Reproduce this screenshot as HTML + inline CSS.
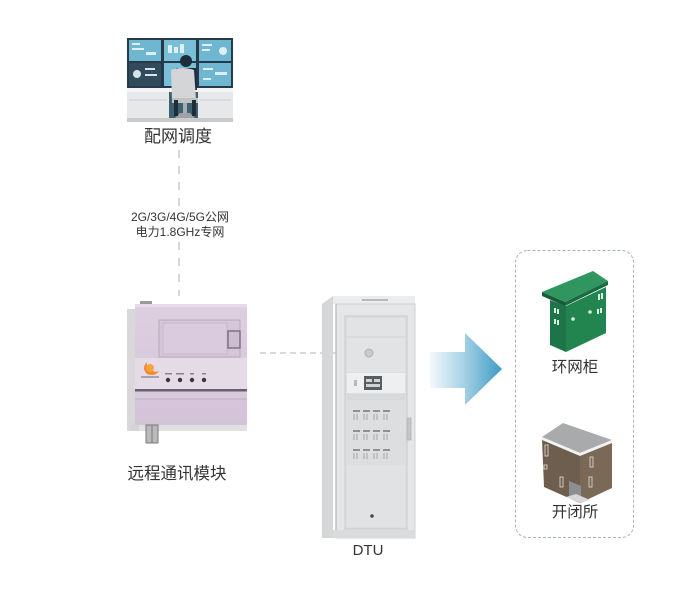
<!DOCTYPE html>
<html><head><meta charset="utf-8"><style>
html,body{margin:0;padding:0;background:#fff;}
svg{display:block;}
text{font-family:"Liberation Sans","Noto Sans CJK SC",sans-serif;fill:#333;}
</style></head><body>
<svg width="697" height="596" viewBox="0 0 697 596" xmlns="http://www.w3.org/2000/svg">
<defs>
<linearGradient id="arr" x1="430" y1="0" x2="502" y2="0" gradientUnits="userSpaceOnUse">
<stop offset="0" stop-color="#f4f9fc"/>
<stop offset="0.45" stop-color="#a9d3e6"/>
<stop offset="1" stop-color="#3d9cc6"/>
</linearGradient>
<linearGradient id="mod" x1="0" y1="0" x2="0" y2="1">
<stop offset="0" stop-color="#ddcfe0"/>
<stop offset="1" stop-color="#d4c3d8"/>
</linearGradient>
</defs>

<!-- control room -->
<g>
<rect x="127" y="38" width="106" height="50" fill="#26394a"/>
<rect x="129" y="40" width="32" height="21" fill="#6fb7d0"/>
<rect x="164" y="40" width="32" height="21" fill="#79bfd7"/>
<rect x="199" y="40" width="32" height="21" fill="#6fb7d0"/>
<rect x="129" y="63" width="32" height="23" fill="#2f4b5c"/>
<rect x="164" y="63" width="32" height="23" fill="#79bfd7"/>
<rect x="199" y="63" width="32" height="23" fill="#6fb7d0"/>
<g fill="#e9f5fa" opacity="0.9">
<rect x="132" y="43" width="8" height="2"/><rect x="132" y="48" width="12" height="2"/><rect x="146" y="52" width="10" height="3"/>
<rect x="168" y="45" width="4" height="8"/><rect x="174" y="47" width="4" height="6"/><rect x="180" y="44" width="4" height="9"/>
<circle cx="223" cy="51" r="4"/><rect x="202" y="44" width="10" height="2"/><rect x="202" y="49" width="8" height="2"/>
<circle cx="137" cy="74" r="4"/><rect x="145" y="68" width="10" height="2"/><rect x="145" y="74" width="12" height="2"/>
<rect x="203" y="68" width="10" height="2"/><rect x="215" y="72" width="12" height="3"/><rect x="203" y="78" width="8" height="2"/>
</g>
<rect x="127" y="88" width="106" height="4" fill="#f4f4f4"/>
<rect x="127" y="92" width="42" height="27" fill="#e6e8ea"/>
<rect x="198" y="92" width="35" height="27" fill="#e6e8ea"/>
<line x1="129" y1="100" x2="167" y2="100" stroke="#c9cccf"/>
<line x1="200" y1="100" x2="231" y2="100" stroke="#c9cccf"/>
<rect x="169" y="92" width="29" height="27" fill="#3e6070"/>
<rect x="127" y="118" width="106" height="4" fill="#c8cacc"/>
<circle cx="186" cy="61" r="6" fill="#1e2d3a"/>
<path d="M176 68 L196 68 L197 90 L178 90 Z" fill="#1e2d3a"/>
<path d="M171 70 Q182 66 194 70 L196 100 L172 100 Z" fill="#d3d5d6"/>
<rect x="172" y="98" width="26" height="5" fill="#bfc2c3"/>
<rect x="183" y="103" width="4" height="11" fill="#a9adb0"/>
<path d="M175 118 L195 118 L190 113 L180 113 Z" fill="#9ea2a5"/>
<rect x="174" y="100" width="4" height="16" fill="#1e2d3a"/>
<rect x="192" y="100" width="4" height="16" fill="#1e2d3a"/>
</g>
<text x="178" y="142" font-size="17" text-anchor="middle">配网调度</text>

<!-- vertical dashed line -->
<line x1="179" y1="150" x2="179" y2="206" stroke="#bdbdbd" stroke-width="1.2" stroke-dasharray="8 8"/>
<line x1="179" y1="242" x2="179" y2="296" stroke="#bdbdbd" stroke-width="1.2" stroke-dasharray="8 8"/>
<text x="180" y="221" font-size="12" text-anchor="middle" fill="#444">2G/3G/4G/5G公网</text>
<text x="180" y="236" font-size="12" text-anchor="middle" fill="#444">电力1.8GHz专网</text>

<!-- communication module -->
<g>
<rect x="127" y="309" width="12" height="122" fill="#c9c6ca" opacity="0.7"/>
<rect x="131" y="423" width="116" height="8" fill="#d3d1d4" opacity="0.7"/>
<rect x="135" y="304" width="112" height="121" fill="url(#mod)"/>
<rect x="140" y="301" width="12" height="4" fill="#9a9a9a"/>
<rect x="135" y="304" width="112" height="3" fill="#e6dbe8"/>
<rect x="159" y="320" width="81" height="37" fill="#d6c6da" stroke="#b9a8be" stroke-width="1"/>
<rect x="163" y="323" width="64" height="31" fill="#dacbde" stroke="#c4b4c8" stroke-width="0.8"/>
<rect x="228" y="331" width="12" height="17" fill="#cdbdd1" stroke="#7e7282" stroke-width="1.5"/>
<rect x="135" y="358" width="112" height="31" fill="#e5dbe7"/>
<path d="M147 362 q-6 6 0 12 q8 3 12 -3 q-4 2 -8 -1 q-5 -3 -4 -8z" fill="#f08a2a"/>
<circle cx="150" cy="368" r="4" fill="#f4a340"/>
<rect x="141" y="376" width="18" height="2" fill="#a89fb0"/>
<g fill="#3a3340">
<circle cx="168" cy="380" r="2.2"/><circle cx="180" cy="380" r="2.2"/><circle cx="192" cy="380" r="2.2"/><circle cx="204" cy="380" r="2.2"/>
</g>
<g fill="#8b8090">
<rect x="165" y="373" width="7" height="1.5"/><rect x="176" y="373" width="8" height="1.5"/><rect x="190" y="373" width="4" height="1.5"/><rect x="202" y="373" width="4" height="1.5"/>
</g>
<rect x="135" y="389" width="112" height="2.5" fill="#6a5f6e"/>
<rect x="135" y="392" width="112" height="7" fill="#d8cadc"/>
<line x1="135" y1="399" x2="247" y2="399" stroke="#bcaec0"/>
<rect x="146" y="425" width="12" height="18" fill="#b9b9bb" stroke="#7a7a7c" stroke-width="1"/>
<line x1="152" y1="425" x2="152" y2="443" stroke="#7a7a7c"/>
</g>
<text x="177" y="479" font-size="16.5" text-anchor="middle">远程通讯模块</text>

<!-- horizontal dashed -->
<line x1="260" y1="353" x2="336" y2="353" stroke="#c2c2c2" stroke-width="1.2" stroke-dasharray="6 4"/>

<!-- DTU cabinet -->
<g>
<path d="M322 304 L333 296 L333 538 L322 538 Z" fill="#d5d7d8"/>
<rect x="333" y="296" width="82" height="8" fill="#ebeced"/>
<rect x="336" y="304" width="79" height="234" fill="#e4e6e7" stroke="#cfd1d2" stroke-width="1"/>
<line x1="336" y1="304" x2="336" y2="538" stroke="#bfc1c2" stroke-width="1.5"/>
<rect x="362" y="299" width="26" height="2" fill="#b7b9ba"/>
<rect x="345" y="316" width="62" height="213" fill="#dcdedf" stroke="#c9cbcc" stroke-width="1"/>
<rect x="347" y="318" width="58" height="54" fill="#e2e3e4"/>
<line x1="347" y1="337" x2="405" y2="337" stroke="#cfd1d2"/>
<circle cx="369" cy="353" r="4" fill="#c8cacb" stroke="#aeb0b1"/>
<rect x="347" y="373" width="58" height="20" fill="#eeeff0"/>
<rect x="364" y="376" width="18" height="14" fill="#5a5d60"/>
<rect x="366" y="379" width="6" height="3" fill="#cfd3d6"/><rect x="374" y="379" width="6" height="3" fill="#cfd3d6"/>
<rect x="366" y="384" width="14" height="3" fill="#cfd3d6"/>
<rect x="354" y="380" width="3" height="6" fill="#b5b7b8"/>
<rect x="347" y="394" width="58" height="6" fill="#d7d9da"/>
<g fill="#8e9194">
<rect x="353" y="410" width="7" height="2"/><rect x="363" y="410" width="7" height="2"/><rect x="373" y="410" width="7" height="2"/><rect x="383" y="410" width="7" height="2"/>
<rect x="353" y="430" width="7" height="2"/><rect x="363" y="430" width="7" height="2"/><rect x="373" y="430" width="7" height="2"/><rect x="383" y="430" width="7" height="2"/>
<rect x="353" y="449" width="7" height="2"/><rect x="363" y="449" width="7" height="2"/><rect x="373" y="449" width="7" height="2"/><rect x="383" y="449" width="7" height="2"/>
</g>
<g stroke="#a3a6a8" stroke-width="1" fill="none">
<path d="M354 414 v6 M357 414 v6 M364 414 v6 M367 414 v6 M374 414 v6 M377 414 v6 M384 414 v6 M387 414 v6"/>
<path d="M354 434 v6 M357 434 v6 M364 434 v6 M367 434 v6 M374 434 v6 M377 434 v6 M384 434 v6 M387 434 v6"/>
<path d="M354 453 v6 M357 453 v6 M364 453 v6 M367 453 v6 M374 453 v6 M377 453 v6 M384 453 v6 M387 453 v6"/>
</g>
<rect x="347" y="465" width="58" height="62" fill="#e0e2e3"/>
<circle cx="372" cy="516" r="1.8" fill="#3a4a5a"/>
<rect x="407" y="418" width="4" height="22" fill="#c3c5c6" stroke="#a8aaab" stroke-width="0.6"/>
<rect x="333" y="530" width="82" height="8" fill="#d9dbdc"/>
</g>
<text x="368" y="555" font-size="15" text-anchor="middle">DTU</text>

<!-- arrow -->
<path d="M430 352 L465 352 L465 333 L502 369 L465 405 L465 388 L430 388 Z" fill="url(#arr)"/>

<!-- dashed container -->
<rect x="515.5" y="250.5" width="118" height="287" rx="12" ry="12" fill="none" stroke="#a9b3ba" stroke-width="1" stroke-dasharray="3 2"/>

<!-- green ring main unit -->
<g>
<path d="M550 300 L566 306 L566 352 L550 345 Z" fill="#1d7448"/>
<path d="M566 306 L606 287 L606 333 L566 352 Z" fill="#22844f"/>
<path d="M542 292 L593 271 L608 281 L565 302 Z" fill="#2f9660"/>
<path d="M542 292 L565 302 L565 306 L542 296 Z" fill="#175c39"/>
<path d="M565 302 L608 281 L608 285 L565 306 Z" fill="#1b6a42"/>
<g fill="#d9efe4">
<rect x="554" y="308" width="2" height="5"/><rect x="557" y="309" width="2" height="5"/>
<rect x="554" y="319" width="2" height="5"/><rect x="557" y="320" width="2" height="5"/>
<rect x="598" y="294" width="2" height="6"/><rect x="601" y="293" width="2" height="6"/>
<rect x="597" y="309" width="2" height="5"/><rect x="600" y="308" width="2" height="5"/>
<circle cx="590" cy="312" r="1.8"/><circle cx="573" cy="319" r="1.8"/>
</g>
</g>
<text x="575" y="372" font-size="15.5" text-anchor="middle">环网柜</text>

<!-- brown switch station -->
<g>
<path d="M542 439 L580 455 L580 503 L544 487 Z" fill="#6d5e4e"/>
<path d="M580 455 L612 441 L612 488 L580 503 Z" fill="#7a6957"/>
<path d="M542 437 L563 423 L612 440 L580 453 Z" fill="#a9aaab"/>
<path d="M542 437 L580 453 L612 440 L612 443 L580 456 L542 440 Z" fill="#f2f2f2"/>
<path d="M569 481 L581 486 L581 503 L569 498 Z" fill="#8d8e90"/>
<path d="M566 497 L581 503 L590 500 L576 494 Z" fill="#d8d8d8"/>
<g fill="none" stroke="#d9d2c8" stroke-width="0.9">
<rect x="545" y="445" width="3" height="11"/>
<rect x="544" y="465" width="3" height="4"/>
<rect x="560" y="477" width="3" height="10"/>
<rect x="590" y="457" width="3" height="10"/>
<rect x="589" y="477" width="3" height="10"/>
</g>
</g>
<text x="575" y="517" font-size="15.5" text-anchor="middle">开闭所</text>
</svg>
</body></html>
